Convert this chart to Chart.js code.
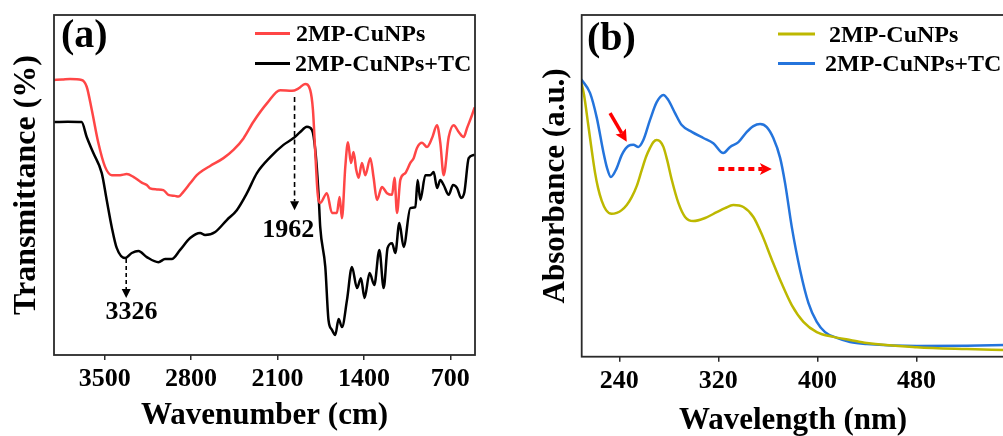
<!DOCTYPE html>
<html><head><meta charset="utf-8">
<script src="https://cdn.jsdelivr.net/npm/chart.js@4.4.1/dist/chart.umd.min.js"></script>
<style>
html,body{margin:0;padding:0;background:#fff;overflow:hidden;width:1003px;height:436px;}
#wrap{position:relative;width:1003px;height:436px;overflow:hidden;background:#fff;}
canvas{position:absolute;top:0;}
#cA{left:0;width:500px;height:436px;}
#cB{left:500px;width:530px;height:436px;}
</style></head><body>
<div id="wrap"><canvas id="cA" width="500" height="436"></canvas><canvas id="cB" width="530" height="436"></canvas></div>
<script>
// ---------- Panel (a): FTIR ----------
const ftirTicks = [3500, 2800, 2100, 1400, 700];
const wnRed = [3911,3846,3781,3687,3646,3605,3552,3498,3443,3376,3322,3268,3200,3159,3133,3078,3025,2984,2930,2903,2863,2808,2754,2700,2646,2538,2457,2376,2295,2186,2078,1983,1930,1876,1835,1813,1794,1775,1754,1700,1659,1619,1597,1578,1551,1529,1505,1484,1462,1443,1416,1389,1348,1322,1294,1254,1213,1172,1152,1132,1105,1065,1024,997,970,929,889,848,808,781,754,713,673,632,592,564,524,505];
const tRed  = [80.9,81.0,81.2,80.9,78.9,72.1,62.4,55.4,52.9,52.9,53.2,52.4,50.7,50.0,49.0,48.7,48.5,47.1,46.8,46.6,48.0,50.5,52.9,54.4,55.6,57.9,60.3,63.7,68.6,74.0,77.9,77.7,78.4,79.7,77.9,72.1,59.4,47.6,44.7,47.6,41.8,41.8,46.5,40.2,55.3,62.6,56.5,59.7,54.4,52.1,56.5,52.9,57.9,52.3,45.6,49.4,47.6,47.1,52.1,41.8,51.5,53.5,56.5,57.9,60.9,62.4,61.2,63.8,67.6,62.4,52.9,64.1,67.6,65.6,64.1,66.8,70.6,72.6];
const wnBlack = [3903,3800,3687,3646,3592,3524,3484,3443,3403,3335,3281,3227,3159,3065,3011,2957,2889,2808,2727,2687,2605,2511,2430,2348,2267,2159,2052,1970,1916,1862,1821,1794,1768,1754,1713,1687,1659,1632,1605,1578,1537,1497,1456,1424,1395,1354,1316,1275,1240,1208,1172,1146,1113,1078,1024,983,965,943,902,862,835,807,781,754,713,678,645,613,586,551,510];
const tBlack  = [68.5,68.6,68.5,64.1,59.4,53.5,45.6,37.6,31.5,28.5,30.0,30.6,28.8,27.3,28.2,28.2,30.9,34.4,35.9,35.3,36.2,39.7,42.6,47.6,53.5,58.2,61.8,63.8,65.6,67.1,66.2,60.3,47.6,37.6,25.9,10.3,7.4,5.9,10.6,8.2,16.2,25.9,19.7,22.6,16.8,24.1,20.6,30.9,19.7,31.5,32.9,30.0,38.8,31.8,43.2,43.5,51.5,45.6,52.9,52.9,53.8,49.1,51.5,50.0,47.1,50.0,49.1,46.2,47.9,57.9,58.8];

// ---------- Panel (b): UV-vis ----------
const uvTicks = [240, 320, 400, 480];
const nmYellow = [209.6,211.5,214.9,217.9,220.4,222.8,225.8,229.3,233.8,237.9,241.9,246.0,250.0,254.1,258.1,261.6,264.8,267.5,270.2,272.9,275.6,278.6,282.4,287.7,293.1,299.8,309.3,318.7,325.4,332.1,340.2,348.3,355.1,363.2,371.2,379.3,388.7,399.5,412.9,426.4,439.9,480.3,520.7,551];
const aYellow  = [79.8,76.6,67.8,59.9,53.8,49.4,45.6,42.9,41.8,42.1,42.9,44.4,46.7,50.0,54.6,58.5,61.1,62.8,63.4,63.0,61.4,57.6,51.7,45.0,40.9,39.7,40.6,42.3,43.5,44.4,43.8,40.9,35.8,28.4,21.4,15.1,10.2,7.2,5.8,4.9,4.0,2.8,2.25,1.95];
const nmBlue = [209.6,216.3,221.8,227.1,230.1,233.1,237.9,241.9,247.3,251.3,255.4,259.4,264.8,270.2,275.6,279.6,285.0,290.4,298.5,307.9,315.9,324.0,329.5,336.2,343.0,348.3,353.7,359.1,364.4,369.9,373.9,379.3,386.0,392.8,399.5,406.2,415.7,426.4,439.9,480.3,520.7,551];
const aBlue  = [81.0,77.2,69.9,59.9,55.2,52.6,55.2,59.0,61.7,62.0,61.4,63.4,69.3,74.5,76.6,75.1,71.3,67.8,65.8,64.0,62.5,59.6,61.4,62.8,65.8,67.5,68.1,67.2,64.0,58.2,50.8,38.0,25.4,15.7,10.2,7.2,5.5,4.3,3.7,3.1,3.2,3.4];

const FONT = "'Liberation Serif','Times New Roman',serif";
const pts = (xs, ys) => xs.map((x, i) => ({x: x, y: ys[i]}));

function arrow(ctx, x1, y1, x2, y2, o) {
  const ang = Math.atan2(y2 - y1, x2 - x1), L = o.head, W = o.hw;
  const c = Math.cos(ang), s = Math.sin(ang);
  const bx = x2 - L * c, by = y2 - L * s;
  ctx.save();
  ctx.strokeStyle = o.color; ctx.fillStyle = o.color; ctx.lineWidth = o.width;
  ctx.setLineDash(o.dash || []);
  ctx.beginPath(); ctx.moveTo(x1, y1); ctx.lineTo(bx + (o.notch || 0) * c, by + (o.notch || 0) * s); ctx.stroke();
  ctx.setLineDash([]);
  ctx.beginPath();
  ctx.moveTo(x2, y2);
  ctx.lineTo(bx - W * s, by + W * c);
  ctx.lineTo(bx + (o.notch || 0) * c, by + (o.notch || 0) * s);
  ctx.lineTo(bx + W * s, by - W * c);
  ctx.closePath(); ctx.fill();
  ctx.restore();
}

const deco = {
  id: 'deco',
  afterDraw(chart, args, opts) {
    const ctx = chart.ctx, a = chart.chartArea, xs = chart.scales.x, ys = chart.scales.y;
    ctx.save();
    ctx.strokeStyle = '#2a2a2a'; ctx.lineWidth = 1.8;
    ctx.strokeRect(a.left, a.top, a.right - a.left, a.bottom - a.top);
    ctx.restore();
    ctx.save();
    ctx.fillStyle = '#000'; ctx.font = 'bold 40px ' + FONT; ctx.textBaseline = 'alphabetic'; ctx.textAlign = 'left';
    ctx.fillText(opts.panel.text, opts.panel.x, opts.panel.y);
    ctx.font = 'bold 24px ' + FONT; ctx.textBaseline = 'middle';
    chart.data.datasets.forEach((d, i) => {
      const L = opts.legend[i];
      ctx.strokeStyle = d.borderColor; ctx.lineWidth = 3;
      ctx.beginPath(); ctx.moveTo(L.x1, L.y); ctx.lineTo(L.x2, L.y); ctx.stroke();
      ctx.fillStyle = '#000';
      ctx.fillText(d.label, L.tx, L.ty);
    });
    (opts.arrows || []).forEach(r => {
      arrow(ctx, xs.getPixelForValue(r.from[0]), ys.getPixelForValue(r.from[1]),
                 xs.getPixelForValue(r.to[0]), ys.getPixelForValue(r.to[1]), r);
    });
    ctx.font = 'bold 26px ' + FONT; ctx.textAlign = 'center'; ctx.textBaseline = 'middle'; ctx.fillStyle = '#000';
    (opts.texts || []).forEach(t => {
      ctx.fillText(t.text, xs.getPixelForValue(t.at[0]), ys.getPixelForValue(t.at[1]));
    });
    ctx.restore();
  }
};

function baseOptions(cfg) {
  return {
    responsive: false, animation: false, devicePixelRatio: 1,
    layout: {padding: {left: 0, top: 15, right: cfg.padRight, bottom: 0}},
    elements: {point: {radius: 0}, line: {cubicInterpolationMode: 'monotone', borderCapStyle: 'round', borderJoinStyle: 'round'}},
    plugins: {legend: {display: false}, tooltip: {enabled: false}, deco: cfg.deco},
    scales: {
      x: {
        type: 'linear', reverse: cfg.reverse, min: cfg.xmin, max: cfg.xmax,
        afterBuildTicks: s => { s.ticks = cfg.ticks.map(v => ({value: v})); },
        afterFit: s => { s.height = cfg.xh; },
        ticks: {font: {family: FONT, size: 26, weight: 'bold'}, color: '#000', padding: 4, maxRotation: 0, autoSkip: false,
                callback: v => String(v)},
        grid: {display: true, drawOnChartArea: false, drawTicks: true, tickLength: 5, color: '#2a2a2a', lineWidth: 1.5},
        border: {display: false},
        title: {display: true, text: cfg.xtitle, font: {family: FONT, size: 31, weight: 'bold'}, color: '#000',
                padding: {top: 0, bottom: cfg.xtpad}}
      },
      y: {
        min: 0, max: 100,
        afterFit: s => { s.width = cfg.yw; },
        ticks: {display: false}, grid: {display: false}, border: {display: false},
        title: {display: true, text: cfg.ytitle, font: {family: FONT, size: cfg.ytsize, weight: 'bold'}, color: '#000',
                padding: {top: cfg.ytpad, bottom: 0}}
      }
    }
  };
}

new Chart(document.getElementById('cA'), {
  type: 'line',
  data: {datasets: [
    {label: '2MP-CuNPs', data: pts(wnRed, tRed), borderColor: '#ff4646', borderWidth: 2.5},
    {label: '2MP-CuNPs+TC', data: pts(wnBlack, tBlack), borderColor: '#000000', borderWidth: 2.5}
  ]},
  options: baseOptions({
    padRight: 25, reverse: true, xmin: 500, xmax: 3911, ticks: ftirTicks, xh: 81, yw: 54,
    xtitle: 'Wavenumber (cm)', xtpad: 1, ytitle: 'Transmittance (%)', ytsize: 32, ytpad: 8,
    deco: {
      panel: {text: '(a)', x: 61, y: 47},
      legend: [{x1: 255, x2: 290, y: 33.5, tx: 296, ty: 35}, {x1: 255, x2: 290, y: 63.5, tx: 295, ty: 64.5}],
      arrows: [
        {from: [1962, 75.9], to: [1962, 42.6], color: '#000', width: 1.6, dash: [5, 3.5], head: 9, hw: 4.5},
        {from: [3326, 28.2], to: [3326, 16.8], color: '#000', width: 1.6, dash: [4, 3], head: 9, hw: 4.5}
      ],
      texts: [{text: '1962', at: [2013, 36.8]}, {text: '3326', at: [3283, 12.6]}]
    }
  }),
  plugins: [deco]
});

new Chart(document.getElementById('cB'), {
  type: 'line',
  data: {datasets: [
    {label: '2MP-CuNPs', data: pts(nmYellow, aYellow), borderColor: '#bdb800', borderWidth: 2.5},
    {label: '2MP-CuNPs+TC', data: pts(nmBlue, aBlue), borderColor: '#2474dc', borderWidth: 2.5}
  ]},
  options: baseOptions({
    padRight: 25.7, reverse: false, xmin: 209.6, xmax: 551, ticks: uvTicks, xh: 79.3, yw: 81.7,
    xtitle: 'Wavelength (nm)', xtpad: -4, ytitle: 'Absorbance (a.u.)', ytsize: 31, ytpad: 37,
    deco: {
      panel: {text: '(b)', x: 87, y: 50},
      legend: [{x1: 278, x2: 315, y: 34, tx: 329, ty: 35.5}, {x1: 278, x2: 315, y: 63.5, tx: 325, ty: 65}],
      arrows: [
        {from: [232.5, 71.3], to: [246.0, 62.9], color: '#ff0000', width: 3.5, head: 12, hw: 6, notch: 2},
        {from: [320.0, 54.9], to: [363.2, 54.9], color: '#ff0000', width: 4, dash: [6, 4], head: 12, hw: 6, notch: 3}
      ],
      texts: []
    }
  }),
  plugins: [deco]
});
</script></body></html>
